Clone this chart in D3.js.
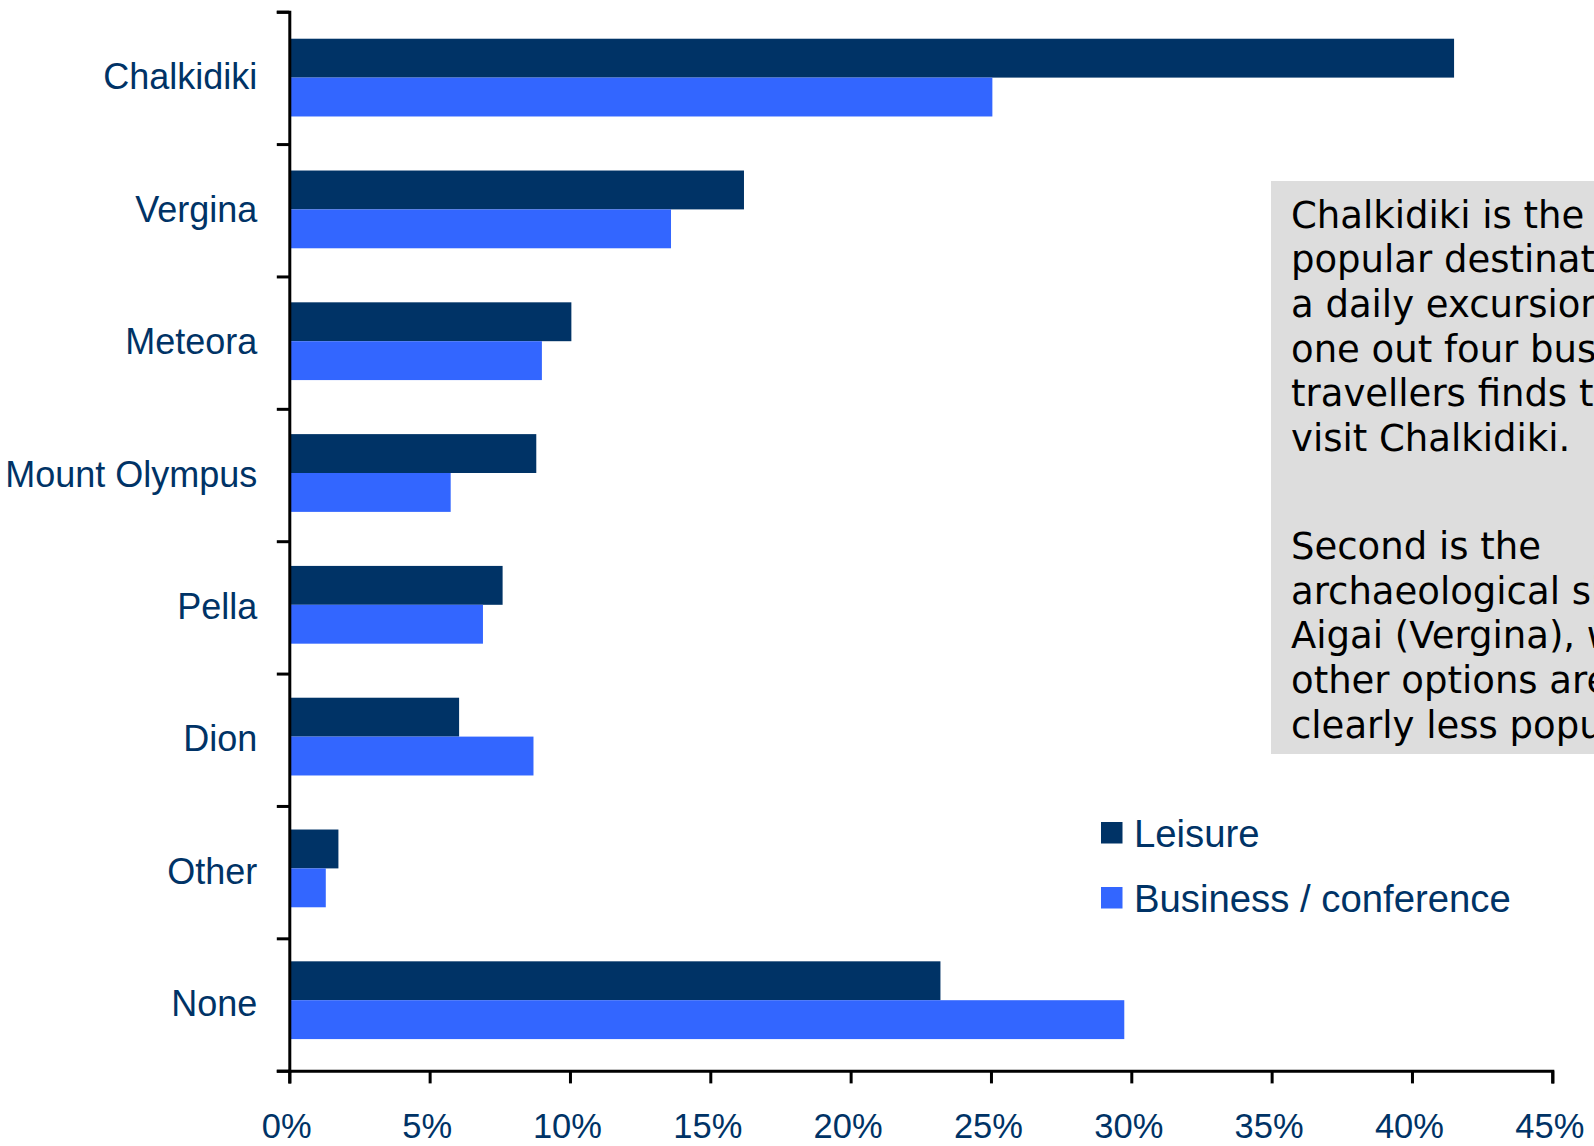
<!DOCTYPE html>
<html>
<head>
<meta charset="utf-8">
<script src="https://cdn.jsdelivr.net/npm/d3@7"></script>
<style>
  html, body { margin: 0; padding: 0; background: #fff; overflow: hidden; }
  svg { display: block; }
</style>
</head>
<body>
<svg id="chart" width="1594" height="1146"></svg>
<script>
// Day-trip destinations, share of travellers (%)
const categories = ["Chalkidiki", "Vergina", "Meteora", "Mount Olympus", "Pella", "Dion", "Other", "None"];
const seriesNames = ["Leisure", "Business / conference"];
const leisure  = [41.5, 16.2, 10.05, 8.8, 7.6, 6.05, 1.75, 23.2];
const business = [25.05, 13.6, 9.0, 5.75, 6.9, 8.7, 1.3, 29.75];
const xTicks = [0, 5, 10, 15, 20, 25, 30, 35, 40, 45];
const noteParagraphs = [
  ["Chalkidiki is the most", "popular destination for", "a daily excursion, and", "one out four business", "travellers finds time to", "visit Chalkidiki."],
  ["Second is the", "archaeological site of", "Aigai (Vergina), while", "other options are", "clearly less popular."]
];

const colors = { "Leisure": "#003366", "Business / conference": "#3366FF" };
const labelColor = "#003366";

const svg = d3.select("#chart");
const plotLeft = 289.3, plotRight = 1552.3, plotTop = 11.7, plotBottom = 1070.7;

const x = d3.scaleLinear().domain([0, 45]).range([plotLeft, plotRight]);

// category bands (label positions)
const y = d3.scaleBand().domain(categories).range([plotTop, plotBottom]);
// bar groups sit on a slightly tighter pitch than the tick grid
const yBars = d3.scaleBand().domain(categories).range([plotTop, plotTop + 8 * 131.8])
  .paddingInner(0.41).paddingOuter(0.205);
const ySub = d3.scaleBand().domain(seriesNames).range([0, yBars.bandwidth()]);

// boundaries between categories, used for the tick marks
const yEdge = d3.scaleLinear().domain([0, categories.length]).range([plotTop, plotBottom]);

const rows = categories.map((c, i) => ({ cat: c, values: [
  { s: seriesNames[0], v: leisure[i] },
  { s: seriesNames[1], v: business[i] }
]}));

// bars
const groups = svg.append("g").selectAll("g").data(rows).join("g")
  .attr("transform", d => `translate(0,${yBars(d.cat)})`);
groups.selectAll("rect").data(d => d.values).join("rect")
  .attr("x", x(0))
  .attr("y", d => ySub(d.s))
  .attr("width", d => x(d.v) - x(0))
  .attr("height", ySub.bandwidth())
  .attr("fill", d => colors[d.s]);

// y axis line with ticks between categories
const yAxis = svg.append("g").attr("transform", `translate(${plotLeft},0)`)
  .call(d3.axisLeft(yEdge).tickValues(d3.range(categories.length + 1))
    .tickSize(12.5).tickSizeOuter(12.5).tickFormat(""));
yAxis.selectAll("path, line").attr("stroke", "#000").attr("stroke-width", 3);

// category labels
const yLabels = svg.append("g").attr("transform", `translate(${plotLeft},0)`)
  .call(d3.axisLeft(y).tickSize(0).tickPadding(32));
yLabels.select(".domain").remove();
yLabels.selectAll("text")
  .attr("font-family", "'Liberation Sans', Arial, sans-serif")
  .attr("font-size", 36)
  .attr("fill", labelColor);

// x axis
const xAxis = svg.append("g").attr("transform", `translate(0,${plotBottom})`)
  .call(d3.axisBottom(x).tickValues(xTicks).tickSize(12.7).tickSizeOuter(12.7)
    .tickPadding(30.5).tickFormat(d => d + "%"));
xAxis.selectAll("path, line").attr("stroke", "#000").attr("stroke-width", 3);
xAxis.selectAll("text")
  .attr("font-family", "'Liberation Sans', Arial, sans-serif")
  .attr("font-size", 34.5)
  .attr("fill", labelColor)
  .attr("dx", -3);

// legend
const legend = svg.append("g").selectAll("g").data(seriesNames).join("g")
  .attr("transform", (d, i) => `translate(1101,${822 + i * 65})`);
legend.append("rect").attr("width", 21.5).attr("height", 21.5)
  .attr("fill", d => colors[d]);
legend.append("text").attr("x", 33).attr("y", 25)
  .attr("font-family", "'Liberation Sans', Arial, sans-serif")
  .attr("font-size", 38.3)
  .attr("fill", labelColor)
  .text(d => d);

// commentary box
const note = svg.append("g");
note.append("rect").attr("x", 1271).attr("y", 181).attr("width", 400).attr("height", 573)
  .attr("fill", "#DDDDDD");
const lineGap = 44.7, paraStarts = [227.5, 559];
noteParagraphs.forEach((lines, p) => {
  note.append("g").selectAll("text").data(lines).join("text")
    .attr("x", 1291)
    .attr("y", (d, i) => paraStarts[p] + i * lineGap)
    .attr("font-family", "'DejaVu Sans', Verdana, sans-serif")
    .attr("font-size", 37)
    .attr("fill", "#000")
    .text(d => d);
});
</script>
</body>
</html>
